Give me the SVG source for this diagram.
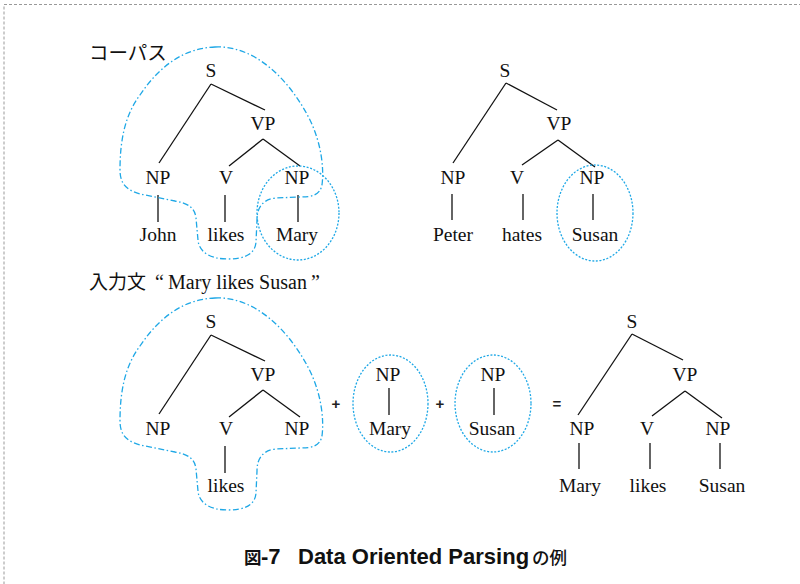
<svg xmlns="http://www.w3.org/2000/svg" width="800" height="584" viewBox="0 0 800 584">
<style>
.t{font-family:"Liberation Serif","Times New Roman",serif;font-size:19.5px;fill:#111;text-anchor:middle}
.jp{font-family:"Noto Sans CJK JP","Liberation Sans",sans-serif;font-size:19.5px;fill:#111}
.op{font-family:"Liberation Sans",Arial,sans-serif;font-size:15px;font-weight:bold;fill:#222;text-anchor:middle}
.e{stroke:#111;stroke-width:1.3;fill:none}
.blob{fill:none;stroke:#1fa8e6;stroke-width:1.3;stroke-dasharray:6 2.5 1.5 2.5}
.dot{fill:none;stroke:#1fa8e6;stroke-width:1.3;stroke-dasharray:2 1.6}
.capL{font-family:"Liberation Sans",Arial,sans-serif;font-size:22px;font-weight:bold;fill:#111}
.capJ{font-family:"Noto Sans CJK JP",sans-serif;font-size:17.5px;font-weight:bold;fill:#111}
</style>
<defs>
<path id="blobShape" d="M 215,47 C 255,45 290,80 310,120 C 322,145 324,170 322,185 C 320,195 312,197 300,197 L 275,198 C 262,200 257,208 257,220 L 256,242 C 255,255 243,259 228,259 C 210,259 199,252 198,240 L 196,218 C 195,208 188,203 175,201 L 145,195 C 128,192 120,185 120,170 C 120,140 125,115 140,95 C 160,65 185,48 215,47 Z"/>
</defs>
<rect x="4" y="4.5" width="820" height="600" fill="none" stroke="#999" stroke-width="1" stroke-dasharray="3 2"/>
<g id="labels">
<text class="jp" x="89" y="60">コーパス</text>
<text class="jp" x="89" y="289" style="font-size:19px">入力文</text>
<text x="155" y="289" font-family="Liberation Serif,serif" font-size="20" fill="#111">“</text>
<text x="168" y="289" font-family="Liberation Serif,serif" font-size="20" fill="#111">Mary likes Susan</text>
<text x="311" y="289" font-family="Liberation Serif,serif" font-size="20" fill="#111">”</text>
</g>
<g id="connectors">
<line class="e" x1="211" y1="84" x2="159" y2="163"/>
<line class="e" x1="211" y1="84" x2="265" y2="110"/>
<line class="e" x1="263" y1="139" x2="229" y2="166"/>
<line class="e" x1="263" y1="139" x2="300" y2="166"/>
<line class="e" x1="158" y1="195" x2="158" y2="222"/>
<line class="e" x1="225" y1="195" x2="225" y2="222"/>
<line class="e" x1="298" y1="195" x2="298" y2="222"/>
<line class="e" x1="506" y1="83" x2="453" y2="163"/>
<line class="e" x1="506" y1="83" x2="557" y2="110"/>
<line class="e" x1="558" y1="140" x2="522" y2="165"/>
<line class="e" x1="558" y1="140" x2="595" y2="167"/>
<line class="e" x1="452" y1="194" x2="452" y2="220"/>
<line class="e" x1="523" y1="194" x2="523" y2="220"/>
<line class="e" x1="593" y1="194" x2="593" y2="220"/>
<line class="e" x1="211" y1="335" x2="159" y2="414"/>
<line class="e" x1="211" y1="335" x2="265" y2="361"/>
<line class="e" x1="263" y1="390" x2="229" y2="417"/>
<line class="e" x1="263" y1="390" x2="300" y2="417"/>
<line class="e" x1="225" y1="446" x2="225" y2="473"/>
<line class="e" x1="389" y1="388" x2="389" y2="415"/>
<line class="e" x1="494" y1="388" x2="494" y2="415"/>
<line class="e" x1="632" y1="334" x2="578" y2="415"/>
<line class="e" x1="632" y1="334" x2="683" y2="360"/>
<line class="e" x1="685" y1="391" x2="652" y2="416"/>
<line class="e" x1="685" y1="391" x2="722" y2="418"/>
<line class="e" x1="579" y1="443" x2="579" y2="469"/>
<line class="e" x1="650" y1="443" x2="650" y2="469"/>
<line class="e" x1="720" y1="443" x2="720" y2="469"/>
</g>
<g id="outlines">
<use href="#blobShape" class="blob"/>
<ellipse class="dot" cx="298" cy="213" rx="41" ry="47"/>
<ellipse class="dot" cx="595" cy="213" rx="38" ry="48"/>
<use href="#blobShape" class="blob" transform="translate(0,251)"/>
<ellipse class="dot" cx="390.5" cy="403.5" rx="37.5" ry="48.5"/>
<ellipse class="dot" cx="493" cy="403.5" rx="38" ry="48.5"/>
</g>
<g id="tree1">
<g id="t1-S"><text class="t" x="211" y="77">S</text></g>
<g id="t1-VP"><text class="t" x="263" y="130">VP</text></g>
<g id="t1-NP1"><text class="t" x="158" y="184">NP</text></g>
<g id="t1-V"><text class="t" x="226" y="184">V</text></g>
<g id="t1-NP2"><text class="t" x="297" y="184">NP</text></g>
<g id="t1-John"><text class="t" x="158" y="241">John</text></g>
<g id="t1-likes"><text class="t" x="226" y="241">likes</text></g>
<g id="t1-Mary"><text class="t" x="297" y="241">Mary</text></g>
</g>
<g id="tree2">
<g id="t2-S"><text class="t" x="505" y="77">S</text></g>
<g id="t2-VP"><text class="t" x="559" y="130">VP</text></g>
<g id="t2-NP1"><text class="t" x="453" y="184">NP</text></g>
<g id="t2-V"><text class="t" x="517" y="184">V</text></g>
<g id="t2-NP2"><text class="t" x="592" y="184">NP</text></g>
<g id="t2-Peter"><text class="t" x="453" y="241">Peter</text></g>
<g id="t2-hates"><text class="t" x="522" y="241">hates</text></g>
<g id="t2-Susan"><text class="t" x="595" y="241">Susan</text></g>
</g>
<g id="tree3">
<g id="t3-S"><text class="t" x="211" y="328">S</text></g>
<g id="t3-VP"><text class="t" x="263" y="381">VP</text></g>
<g id="t3-NP1"><text class="t" x="158" y="435">NP</text></g>
<g id="t3-V"><text class="t" x="226" y="435">V</text></g>
<g id="t3-NP2"><text class="t" x="297" y="435">NP</text></g>
<g id="t3-likes"><text class="t" x="226" y="492">likes</text></g>
</g>
<g id="frag1">
<text class="t" x="388" y="381">NP</text>
<text class="t" x="390" y="435">Mary</text>
</g>
<g id="frag2">
<text class="t" x="493" y="381">NP</text>
<text class="t" x="492" y="435">Susan</text>
</g>
<g id="ops">
<text class="op" x="336" y="409">+</text>
<text class="op" x="440" y="409">+</text>
<text class="op" x="557" y="409">=</text>
</g>
<g id="tree4">
<g id="t4-S"><text class="t" x="632" y="328">S</text></g>
<g id="t4-VP"><text class="t" x="685" y="381">VP</text></g>
<g id="t4-NP1"><text class="t" x="582" y="435">NP</text></g>
<g id="t4-V"><text class="t" x="647" y="435">V</text></g>
<g id="t4-NP2"><text class="t" x="718" y="435">NP</text></g>
<g id="t4-Mary"><text class="t" x="580" y="492">Mary</text></g>
<g id="t4-likes"><text class="t" x="648" y="492">likes</text></g>
<g id="t4-Susan"><text class="t" x="722" y="492">Susan</text></g>
</g>
<g id="caption">
<text class="capJ" x="244" y="564">図</text>
<text class="capL" x="261" y="564">-7</text>
<text class="capL" x="298" y="564">Data Oriented Parsing</text>
<text class="capJ" x="532" y="564" style="font-weight:500">の例</text>
</g>
</svg>
